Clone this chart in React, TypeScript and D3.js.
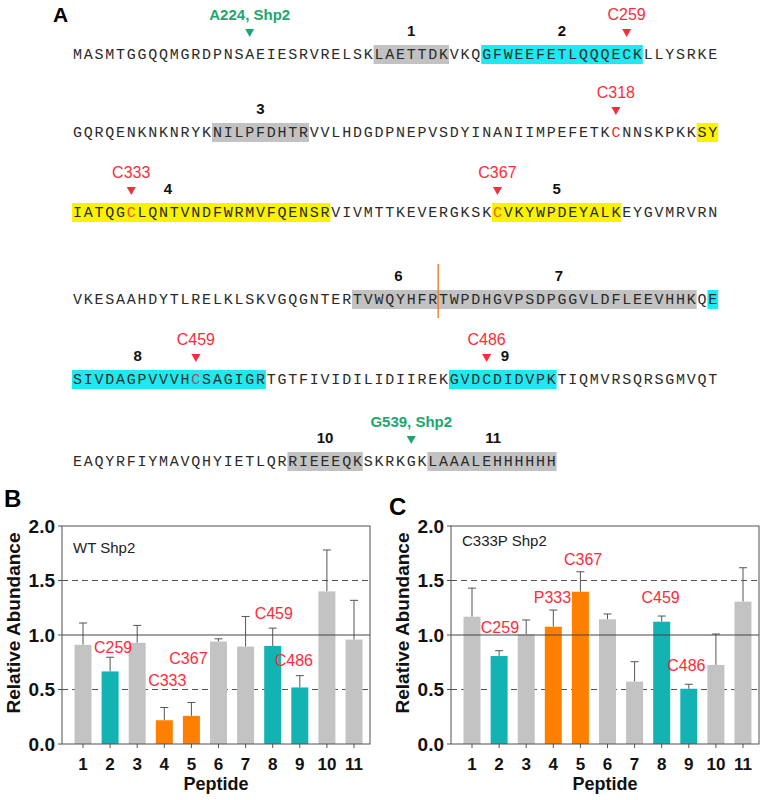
import React from 'react';
import * as d3 from 'd3';

// ---------------- DATA ----------------
const seqLines: string[] = [
  'MASMTGGQQMGRDPNSAEIESRVRELSKLAETTDKVKQGFWEEFETLQQQECKLLYSRKE',
  'GQRQENKNKNRYKNILPFDHTRVVLHDGDPNEPVSDYINANIIMPEFETKCNNSKPKKSY',
  'IATQGCLQNTVNDFWRMVFQENSRVIVMTTKEVERGKSKCVKYWPDEYALKEYGVMRVRN',
  'VKESAAHDYTLRELKLSKVGQGNTERTVWQYHFRTWPDHGVPSDPGGVLDFLEEVHHKQE',
  'SIVDAGPVVVHCSAGIGRTGTFIVIDILIDIIREKGVDCDIDVPKTIQMVRSQRSGMVQT',
  'EAQYRFIYMAVQHYIETLQRRIEEEQKSKRKGKLAAALEHHHHHH',
];

// highlighted peptide spans: [line, startIdx, endIdx, kind]
const highlightSpans: [number, number, number, string][] = [
  [0, 28, 34, 'gray'],
  [0, 38, 52, 'cyan'],
  [1, 13, 21, 'gray'],
  [1, 58, 59, 'yellow'],
  [2, 0, 23, 'yellow'],
  [2, 39, 50, 'yellow'],
  [3, 26, 57, 'gray'],
  [3, 59, 59, 'cyan'],
  [4, 0, 17, 'cyan'],
  [4, 35, 44, 'cyan'],
  [5, 20, 26, 'gray'],
  [5, 33, 44, 'gray'],
];

// peptide number labels: [label, line, char position]
const peptideLabels: [string, number, number][] = [
  ['1', 0, 31.5],
  ['2', 0, 45.5],
  ['3', 1, 17.5],
  ['4', 2, 8.9],
  ['5', 2, 45],
  ['6', 3, 30.3],
  ['7', 3, 45.2],
  ['8', 4, 6.1],
  ['9', 4, 40.2],
  ['10', 5, 23.5],
  ['11', 5, 39.1],
];

// site markers: [label, line, residue index, kind]
const siteMarkers: [string, number, number, string][] = [
  ['A224, Shp2', 0, 16, 'mut'],
  ['C259', 0, 51, 'cys'],
  ['C318', 1, 50, 'cys'],
  ['C333', 2, 5, 'cys'],
  ['C367', 2, 39, 'cys'],
  ['C459', 4, 11, 'cys'],
  ['C486', 4, 38, 'cys'],
  ['G539, Shp2', 5, 31, 'mut'],
];

// coloured residues: [line, idx, colourKey]
const coloredResidues: [number, number, string][] = [
  [1, 50, 'red'],
  [2, 5, 'orangeRed'],
  [2, 39, 'orange'],
  [4, 11, 'magenta'],
];

// trypsin cut between peptide 6 and 7: [line, boundary index]
const cutSites: [number, number][] = [[3, 34]];

const peptides: string[] = ['1', '2', '3', '4', '5', '6', '7', '8', '9', '10', '11'];
const peptideGroup: string[] = ['gray', 'teal', 'gray', 'orange', 'orange', 'gray', 'gray', 'teal', 'teal', 'gray', 'gray'];

const wtValues: number[] = [0.91, 0.666, 0.928, 0.218, 0.258, 0.94, 0.894, 0.9, 0.519, 1.4, 0.958];
const wtErrors: number[] = [0.2, 0.13, 0.16, 0.117, 0.123, 0.025, 0.276, 0.163, 0.108, 0.38, 0.36];
const c333pValues: number[] = [1.168, 0.807, 1.006, 1.076, 1.397, 1.144, 0.572, 1.122, 0.507, 0.725, 1.306];
const c333pErrors: number[] = [0.262, 0.049, 0.132, 0.153, 0.183, 0.049, 0.183, 0.052, 0.041, 0.284, 0.311];

// annotations: [text, peptide position (fractional), value]
const wtAnnotations: [string, number, number][] = [
  ['C259', 2.11, 0.885],
  ['C333', 4.11, 0.58],
  ['C367', 4.89, 0.78],
  ['C459', 8.04, 1.2],
  ['C486', 8.78, 0.765],
];
const c333pAnnotations: [string, number, number][] = [
  ['C367', 5.1, 1.69],
  ['P333', 3.97, 1.34],
  ['C259', 2.03, 1.07],
  ['C459', 7.96, 1.34],
  ['C486', 8.91, 0.716],
];

const yTicks: number[] = [0, 0.5, 1, 1.5, 2];
const dashedRefs: number[] = [0.5, 1.5];
const solidRefs: number[] = [1];

// ---------------- STYLE ----------------
const hlColors: Record<string, string> = { gray: '#c2c2c2', cyan: '#1ee8f0', yellow: '#f9f300' };
const barColors: Record<string, string> = { gray: '#c3c3c3', teal: '#14b3b3', orange: '#ff8000' };
const resColors: Record<string, string> = { red: '#ff2b2b', orangeRed: '#f2541c', orange: '#ee6a12', magenta: '#c8406a' };
const RED = '#ff2b3a';
const GREEN = '#1aa86e';
const SANS = '"Liberation Sans", Arial, sans-serif';
const MONO = '"Liberation Mono", "DejaVu Sans Mono", monospace';

// ---------------- PANEL A ----------------
const X0 = 72;
const CW = 10.77;
const lineY = [55, 133, 213, 300, 380, 462];

function SequencePanel() {
  const cx = (i: number) => X0 + (i + 0.5) * CW;
  const colorMap = new Map<string, string>();
  coloredResidues.forEach(([l, i, c]) => colorMap.set(`${l}-${i}`, resColors[c]));
  return (
    <g>
      <text x={53} y={22} fontFamily={SANS} fontWeight="bold" fontSize={21}>A</text>
      {highlightSpans.map(([l, s, e, k], j) => (
        <rect key={'h' + j} x={X0 + s * CW} y={lineY[l] - 10} width={(e - s + 1) * CW} height={19} fill={hlColors[k]} />
      ))}
      {cutSites.map(([l, b], j) => (
        <line key={'c' + j} x1={X0 + b * CW} x2={X0 + b * CW} y1={lineY[l] - 36} y2={lineY[l] + 18} stroke="#ef7d2a" strokeWidth={1.4} />
      ))}
      {seqLines.map((s, l) => (
        <g key={'l' + l}>
          {s.split('').map((ch, i) => (
            <text key={i} x={cx(i)} y={lineY[l]} textAnchor="middle" dominantBaseline="central"
              fontFamily={MONO} fontSize={15} fill={colorMap.get(`${l}-${i}`) || '#2a2a2a'}>{ch}</text>
          ))}
        </g>
      ))}
      {peptideLabels.map(([lab, l, p], j) => (
        <text key={'p' + j} x={X0 + p * CW} y={lineY[l] - 25} textAnchor="middle" dominantBaseline="central"
          fontFamily={SANS} fontWeight="bold" fontSize={15} fill="#111">{lab}</text>
      ))}
      {siteMarkers.map(([lab, l, i, kind], j) => {
        const x = cx(i);
        const y = lineY[l];
        const col = kind === 'mut' ? GREEN : RED;
        const tri = `M${x - 4.5},${y - 26} L${x + 4.5},${y - 26} L${x},${y - 18} Z`;
        return (
          <g key={'m' + j}>
            <path d={tri} fill={col} />
            <text x={x} y={y - 41} textAnchor="middle" dominantBaseline="central" fontFamily={SANS}
              fontWeight={kind === 'mut' ? 'bold' : 'normal'} fontSize={kind === 'mut' ? 15 : 16} fill={col}>{lab}</text>
          </g>
        );
      })}
    </g>
  );
}

// ---------------- PANELS B / C ----------------
type BarPanelProps = {
  left: number;
  letter: string;
  letterX: number;
  letterY: number;
  title: string;
  titleY: number;
  values: number[];
  errors: number[];
  annotations: [string, number, number][];
};

function BarPanel({ left, letter, letterX, letterY, title, titleY, values, errors, annotations }: BarPanelProps) {
  const width = 308;
  const top = 526;
  const bottom = 744;
  const right = left + width;
  const x = d3.scaleLinear().domain([1, 11]).range([left + 21, right - 16]);
  const y = d3.scaleLinear().domain([0, 2]).range([bottom, top]);
  const barW = 17;
  const axisCol = '#505050';
  return (
    <g>
      <text x={letterX} y={letterY} fontFamily={SANS} fontWeight="bold" fontSize={24}>{letter}</text>
      {dashedRefs.map((v) => (
        <line key={'d' + v} x1={left} x2={right} y1={y(v)} y2={y(v)} stroke="#555" strokeWidth={1} strokeDasharray="6,4" />
      ))}
      {values.map((v, i) => {
        const xc = x(i + 1);
        return (
          <g key={'b' + i}>
            <line x1={xc} x2={xc} y1={y(v)} y2={y(v + errors[i])} stroke="#555" strokeWidth={1} />
            <line x1={xc - 4} x2={xc + 4} y1={y(v + errors[i])} y2={y(v + errors[i])} stroke="#555" strokeWidth={1} />
            <rect x={xc - barW / 2} y={y(v)} width={barW} height={bottom - y(v)} fill={barColors[peptideGroup[i]]} />
          </g>
        );
      })}
      {solidRefs.map((v) => (
        <line key={'s' + v} x1={left} x2={right} y1={y(v)} y2={y(v)} stroke="#444" strokeWidth={1} />
      ))}
      <rect x={left} y={top} width={width} height={bottom - top} fill="none" stroke={axisCol} strokeWidth={1} />
      {yTicks.map((t) => (
        <g key={'yt' + t}>
          <line x1={left - 4} x2={left} y1={y(t)} y2={y(t)} stroke={axisCol} />
          <text x={left - 7} y={y(t)} textAnchor="end" dominantBaseline="central" fontFamily={SANS}
            fontWeight="bold" fontSize={19} fill="#111">{d3.format('.1f')(t)}</text>
        </g>
      ))}
      {peptides.map((p, i) => (
        <g key={'xt' + i}>
          <line x1={x(i + 1)} x2={x(i + 1)} y1={bottom} y2={bottom + 4} stroke={axisCol} />
          <text x={x(i + 1)} y={bottom + 20} textAnchor="middle" dominantBaseline="central" fontFamily={SANS}
            fontWeight="bold" fontSize={17} fill="#111">{p}</text>
        </g>
      ))}
      <text x={(left + right) / 2} y={bottom + 40} textAnchor="middle" dominantBaseline="central" fontFamily={SANS}
        fontWeight="bold" fontSize={18} fill="#111">Peptide</text>
      <text transform={`translate(${left - 49},${(top + bottom) / 2 - 12}) rotate(-90)`} textAnchor="middle"
        dominantBaseline="central" fontFamily={SANS} fontWeight="bold" fontSize={19} fill="#111">Relative Abundance</text>
      <text x={left + 11} y={titleY} dominantBaseline="central" fontFamily={SANS} fontSize={15} fill="#222">{title}</text>
      {annotations.map(([t, p, v], j) => (
        <text key={'a' + j} x={x(p)} y={y(v)} textAnchor="middle" dominantBaseline="central" fontFamily={SANS}
          fontSize={16} fill={RED}>{t}</text>
      ))}
    </g>
  );
}

export default function App() {
  return (
    <svg width={774} height={800} style={{ position: 'absolute', left: 0, top: 0, background: '#fff' }}>
      <rect width={774} height={800} fill="#fff" />
      <SequencePanel />
      <BarPanel left={62} letter="B" letterX={4} letterY={507} title="WT Shp2" titleY={547}
        values={wtValues} errors={wtErrors} annotations={wtAnnotations} />
      <BarPanel left={451} letter="C" letterX={389} letterY={515} title="C333P  Shp2" titleY={540}
        values={c333pValues} errors={c333pErrors} annotations={c333pAnnotations} />
    </svg>
  );
}
